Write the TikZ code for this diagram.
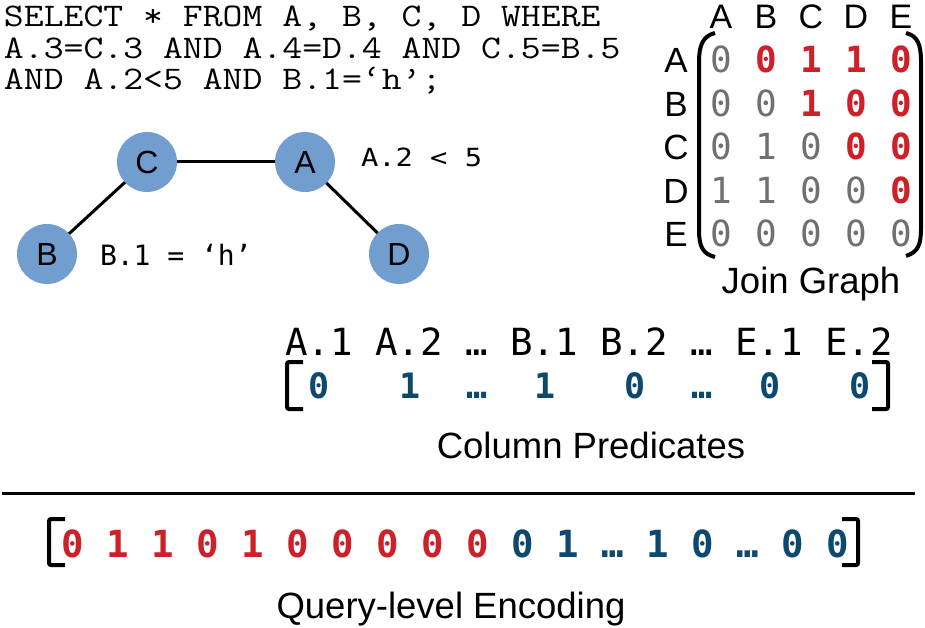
\documentclass[tikz,border=0pt]{standalone}
\usepackage{fontspec}
\setmainfont{Liberation Sans}
\newfontfamily\dmono{DejaVu Sans Mono}
\definecolor{qred}{RGB}{206,32,41}
\definecolor{qblue}{RGB}{13,72,110}
\definecolor{qgray}{RGB}{112,112,112}
\definecolor{qnode}{RGB}{114,157,207}
\newcommand\fsz[1]{\fontsize{#1}{#1}\selectfont}
\newcommand\sqltext[1]{\scalebox{1.17}[1]{#1}}
\begin{document}
\begin{tikzpicture}[x=1pt,y=-1pt,
  every node/.style={inner sep=0pt, outer sep=0pt},
  sql/.style={anchor=base west, font=\ttfamily\fsz{33}},
  tbl/.style={circle, fill=qnode, minimum size=60pt, font=\fsz{32}},
  edgeline/.style={line width=3pt},
  lbl/.style={anchor=base west, font=\dmono\fsz{28}},
  hdr/.style={anchor=base, font=\fsz{34}},
  rowl/.style={anchor=base, font=\fsz{35}},
  cell/.style={anchor=base, font=\dmono\fsz{36}},
  captxt/.style={anchor=base, font=\fsz{36.5}},
  brk/.style={line width=4pt, rounded corners=2pt},
  paren/.style={line width=4pt},
]
\useasboundingbox (0,0) rectangle (925,628);

% SQL query
\node[sql] (q1) at (4,27) {\sqltext{SELECT * FROM A, B, C, D WHERE}};
\node[sql] (q2) at (4,58.5) {\sqltext{A.3=C.3 AND A.4=D.4 AND C.5=B.5}};
\node[sql] (q3) at (4,90) {\sqltext{AND A.2<5 AND B.1=‘h’;}};

% join graph
\node[tbl] (C) at (147,162) {C};
\node[tbl] (A) at (305,162) {A};
\node[tbl] (B) at (47,254) {B};
\node[tbl] (D) at (399,254) {D};
\draw[edgeline] (C) -- (A);
\draw[edgeline] (C) -- (B);
\draw[edgeline] (A) -- (D);
\node[lbl, font=\dmono\fsz{25}] (pa) at (361,167) {\scalebox{1.15}[1]{A.2 < 5}};
\node[lbl] (pb) at (100,265) {B.1 = ‘h’};

% adjacency matrix
\foreach \n [count=\c from 0] in {A,B,C,D,E} {
  \node[hdr] (h\n) at ({721+45*\c},29) {\n};
  \node[rowl] (r\n) at (676,{73+43.5*\c}) {\n};
}
\foreach \r/\vals in {0/{0,0,1,1,0},1/{0,0,1,0,0},2/{0,1,0,0,0},3/{1,1,0,0,0},4/{0,0,0,0,0}} {
  \foreach \v [count=\c from 0] in \vals {
    \node[cell] (m\r\c) at ({721+45*\c},{73+43.5*\r})
      {\ifnum\c>\r\color{qred}\bfseries\else\color{qgray}\fi\v};
  }
}
\draw[paren] (715,33) .. controls (703,36) and (699,45) .. (699,62) -- (699,230) .. controls (699,247) and (703,254) .. (715,257);
\draw[paren] (906,33) .. controls (918,36) and (921,45) .. (921,62) -- (921,228) .. controls (921,245) and (918,252) .. (906,256);
\node[captxt] (jg) at (811,293) {Join Graph};

% column predicates
\node[anchor=base west, font=\dmono\fsz{37.4}] (colhdr) at (285,355) {A.1 A.2 … B.1 B.2 … E.1 E.2};
\foreach \x/\v [count=\i] in {319/0,410/1,477/…,545/1,635/0,702/…,770/0,860/0} {
  \node[anchor=base, font=\dmono\bfseries\fsz{35}, text=qblue] (cv\i) at (\x,398) {\v};
}
\draw[brk] (303,362) -- (287,362) -- (287,409) -- (303,409);
\draw[brk] (872,362) -- (888,362) -- (888,409) -- (872,409);
\node[captxt] (cp) at (591,458) {Column Predicates};

% separator
\draw[line width=3pt] (2,493) -- (915,493);

% query-level encoding
\foreach \v [count=\i from 0] in {0,1,1,0,1,0,0,0,0,0,0,1,…,1,0,…,0,0} {
  \node[anchor=base, font=\dmono\bfseries\fsz{37.4}] (e\i) at ({73+45*\i},557)
    {\ifnum\i<10 \color{qred}\else\color{qblue}\fi\v};
}
\draw[brk] (65,519) -- (49,519) -- (49,565) -- (65,565);
\draw[brk] (842,519) -- (858,519) -- (858,565) -- (842,565);
\node[captxt] (qe) at (451,618) {Query-level Encoding};
\end{tikzpicture}
\end{document}
